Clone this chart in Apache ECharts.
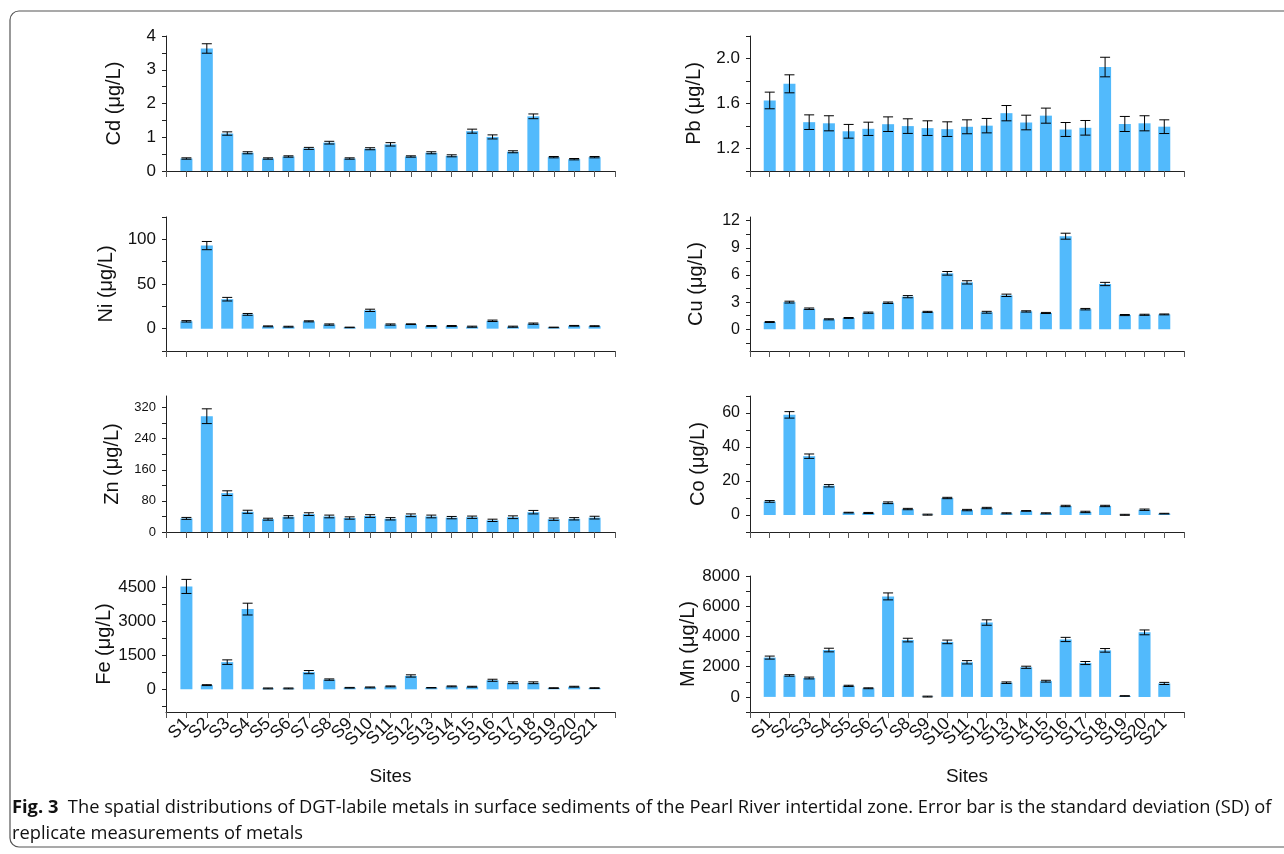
<!DOCTYPE html>
<html><head><meta charset="utf-8">
<script src="https://cdn.jsdelivr.net/npm/echarts@6/dist/echarts.min.js"></script>
<style>html,body{margin:0;padding:0;background:#fff}#c{width:1284px;height:854px}</style>
</head><body><div id="c"></div>
<script>
// ---------- data ----------
const sites = ['S1','S2','S3','S4','S5','S6','S7','S8','S9','S10','S11','S12','S13','S14','S15','S16','S17','S18','S19','S20','S21'];

const cdMean = [0.37,3.63,1.11,0.54,0.37,0.43,0.67,0.84,0.37,0.66,0.79,0.43,0.54,0.45,1.18,1.01,0.57,1.62,0.41,0.35,0.41];
const cdSD   = [0.02,0.14,0.05,0.03,0.02,0.02,0.03,0.04,0.02,0.03,0.05,0.02,0.03,0.03,0.06,0.06,0.03,0.07,0.02,0.02,0.02];

const pbMean = [1.627,1.775,1.434,1.424,1.353,1.375,1.416,1.399,1.381,1.372,1.393,1.403,1.514,1.431,1.492,1.369,1.384,1.924,1.418,1.424,1.394];
const pbSD   = [0.074,0.080,0.065,0.067,0.061,0.059,0.065,0.065,0.065,0.065,0.062,0.064,0.068,0.065,0.067,0.062,0.065,0.087,0.067,0.067,0.061];

const niMean = [8.2,93,33,16,2.6,2.2,8.2,4.6,1.4,20.5,4.6,5,3,3,2.2,8.8,2.2,5.6,1.4,3.2,2.8];
const niSD   = [0.8,4.6,2,1,0.5,0.5,0.6,0.7,0.3,1.3,0.7,0.4,0.5,0.5,0.6,0.8,0.6,0.7,0.3,0.4,0.5];

const cuMean = [0.8,3.0,2.27,1.1,1.25,1.83,2.93,3.6,1.92,6.18,5.18,1.88,3.75,1.97,1.8,10.28,2.22,5.0,1.57,1.6,1.64];
const cuSD   = [0.05,0.1,0.08,0.06,0.05,0.07,0.08,0.12,0.06,0.2,0.18,0.1,0.13,0.07,0.06,0.33,0.08,0.18,0.06,0.06,0.05];

const znMean = [35,298,100,52,33,39,46,40,36,41,34,43,40,37,38,30,38,51,33,34,37];
const znSD   = [2.5,19,6,4,2.5,3,3.5,3.5,3,3.5,3,3.5,3.5,3,3,3,3.5,4.5,3,3,3.5];

const coMean = [8,58.9,34.6,17.2,1.4,1.2,7.2,3.5,0.2,10,2.9,4.1,1,2.4,1,5.3,1.8,5.3,0.1,3.1,0.8];
const coSD   = [0.5,1.9,1.3,0.7,0.2,0.3,0.5,0.4,0.3,0.4,0.4,0.4,0.3,0.2,0.3,0.4,0.4,0.4,0.3,0.4,0.2];

const feMean = [4540,185,1200,3540,40,40,760,430,70,85,130,590,70,130,115,400,290,290,55,115,55];
const feSD   = [310,20,100,260,20,20,70,30,15,20,20,50,10,20,20,45,40,40,15,20,15];

const mnMean = [2600,1420,1250,3100,730,570,6650,3760,20,3640,2290,4920,940,1960,1040,3800,2240,3080,60,4270,890];
const mnSD   = [100,50,60,120,40,30,230,120,30,120,110,180,50,70,60,140,100,120,20,160,70];

// axis ranges, ticks and tick labels
const cdRange = [0,4],      cdTicks = [0,0.5,1,1.5,2,2.5,3,3.5,4],          cdLabels = [0,1,2,3,4];
const pbRange = [1.0,2.2],  pbTicks = [1.0,1.2,1.4,1.6,1.8,2.0,2.2],        pbLabels = [1.2,1.6,2.0];
const niRange = [-25,125],  niTicks = [-25,0,25,50,75,100,125],             niLabels = [0,50,100];
const cuRange = [-2.4,12.4],cuTicks = [-1.5,0,1.5,3,4.5,6,7.5,9,10.5,12],   cuLabels = [0,3,6,9,12];
const znRange = [0,350],    znTicks = [0,40,80,120,160,200,240,280,320],    znLabels = [0,80,160,240,320];
const coRange = [-10,70],   coTicks = [-10,0,10,20,30,40,50,60,70],         coLabels = [0,20,40,60];
const feRange = [-1000,5000],feTicks = [-750,0,750,1500,2250,3000,3750,4500],feLabels = [0,1500,3000,4500];
const mnRange = [-1000,8000],mnTicks = [-1000,0,1000,2000,3000,4000,5000,6000,7000,8000], mnLabels = [0,2000,4000,6000,8000];

const captionBold = 'Fig. 3';
const captionLine1 = 'The spatial distributions of DGT-labile metals in surface sediments of the Pearl River intertidal zone. Error bar is the standard deviation (SD) of';
const captionLine2 = 'replicate measurements of metals';

// ---------- layout / style ----------
const BAR = '#52BAFC';
const AXC = '#222';
const FONT = '"Liberation Sans", Arial, sans-serif';
const panels = [
  {name:'Cd (μg/L)', mean:cdMean, sd:cdSD, range:cdRange, ticks:cdTicks, labels:cdLabels, col:0,row:0, fs:17, gap:42},
  {name:'Pb (μg/L)', mean:pbMean, sd:pbSD, range:pbRange, ticks:pbTicks, labels:pbLabels, col:1,row:0, fs:17, gap:46, fmt:v=>v.toFixed(1)},
  {name:'Ni (μg/L)', mean:niMean, sd:niSD, range:niRange, ticks:niTicks, labels:niLabels, col:0,row:1, fs:17, gap:50},
  {name:'Cu (μg/L)', mean:cuMean, sd:cuSD, range:cuRange, ticks:cuTicks, labels:cuLabels, col:1,row:1, fs:16, gap:44},
  {name:'Zn (μg/L)', mean:znMean, sd:znSD, range:znRange, ticks:znTicks, labels:znLabels, col:0,row:2, fs:13, gap:44},
  {name:'Co (μg/L)', mean:coMean, sd:coSD, range:coRange, ticks:coTicks, labels:coLabels, col:1,row:2, fs:16, gap:42},
  {name:'Fe (μg/L)', mean:feMean, sd:feSD, range:feRange, ticks:feTicks, labels:feLabels, col:0,row:3, fs:17, gap:45},
  {name:'Mn (μg/L)', mean:mnMean, sd:mnSD, range:mnRange, ticks:mnTicks, labels:mnLabels, col:1,row:3, fs:17, gap:44},
];
const rowTop = [36,217,396,576], rowH = [135,134,136,136];
const colLeft = [166,750], colW = [449,434];

const cats = [''].concat(sites).concat(['']);
const grid=[], xAxis=[], yAxis=[], series=[];
panels.forEach((p,i)=>{
  grid.push({left:colLeft[p.col], top:rowTop[p.row], width:colW[p.col], height:rowH[p.row]});
  const bottom = p.row===3;
  xAxis.push({
    type:'category', gridIndex:i, data:cats, boundaryGap:false,
    axisLine:{show:true, onZero:false, lineStyle:{color:AXC,width:1}},
    axisTick:{show:true, interval:0, length:6, lineStyle:{color:'#555'}},
    axisLabel:{show:bottom, interval:0, rotate:45, margin:9, fontSize:17.5, color:'#111', fontFamily:FONT, hideOverlap:false},
    splitLine:{show:false},
    name: bottom ? 'Sites' : '', nameLocation:'middle', nameGap:55,
    nameTextStyle:{fontSize:19, color:'#111', fontFamily:FONT}
  });
  yAxis.push({
    type:'value', gridIndex:i, min:p.range[0], max:p.range[1],
    axisLine:{show:true, lineStyle:{color:AXC,width:1}},
    axisTick:{show:true, length:4, customValues:p.ticks, lineStyle:{color:AXC}},
    axisLabel:{show:true, customValues:p.labels, fontSize:p.fs, color:'#111', fontFamily:FONT, margin:10,
      formatter: p.fmt ? p.fmt : (v=>String(v))},
    splitLine:{show:false},
    name:p.name, nameLocation:'middle', nameGap:p.gap, nameRotate:90,
    nameTextStyle:{fontSize:20, color:'#111', fontFamily:FONT}
  });
  series.push({
    type:'bar', xAxisIndex:i, yAxisIndex:i, barWidth:12, clip:true,
    data:[null].concat(p.mean).concat([null]),
    itemStyle:{color:BAR}, silent:true, animation:false
  });
  series.push({
    type:'custom', xAxisIndex:i, yAxisIndex:i, clip:true, z:5, animation:false, silent:true,
    data:p.mean.map((m,k)=>[k+1,m,p.sd[k]]),
    encode:{x:0,y:1},
    renderItem:(params,api)=>{
      const x=api.value(0), m=api.value(1), s=api.value(2);
      const t=api.coord([x,m+s]), b=api.coord([x,m-s]);
      const hw=5, st={stroke:'#000', lineWidth:1};
      return {type:'group', children:[
        {type:'line', shape:{x1:t[0],y1:t[1],x2:b[0],y2:b[1]}, style:st},
        {type:'line', shape:{x1:t[0]-hw,y1:t[1],x2:t[0]+hw,y2:t[1]}, style:st},
        {type:'line', shape:{x1:b[0]-hw,y1:b[1],x2:b[0]+hw,y2:b[1]}, style:st}
      ]};
    }
  });
});

const capFam = '"Open Sans", Lato, sans-serif';
const capFs = 18.3;

const chart = echarts.init(document.getElementById('c'), null, {renderer:'canvas'});
chart.setOption({
  animation:false,
  backgroundColor:'#fff',
  grid, xAxis, yAxis, series,
  graphic:[
    {type:'rect', shape:{x:10,y:11,width:1300,height:836,r:9}, style:{fill:'none', stroke:'#555', lineWidth:1.2}, silent:true},
    {type:'text', left:12, top:799, style:{
      text:'{b|' + captionBold + '}  ' + captionLine1,
      font: capFs + 'px ' + capFam, fill:'#111',
      rich:{b:{fontWeight:'bold', fontSize:capFs, fontFamily:capFam, fill:'#111'}}
    }},
    {type:'text', left:12, top:825, style:{text:captionLine2, font: capFs + 'px ' + capFam, fill:'#111'}}
  ]
});
</script>
</body></html>
